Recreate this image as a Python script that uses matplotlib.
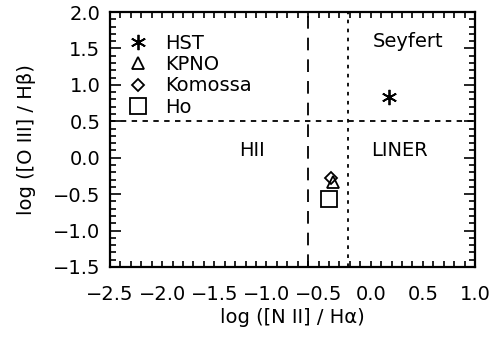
import matplotlib
matplotlib.use("Agg")
import matplotlib.pyplot as plt
from matplotlib.ticker import MultipleLocator

# Diagnostic-diagram measurements
sources = ["HST", "KPNO", "Komossa", "Ho"]
log_nii_ha = [0.18, -0.36, -0.38, -0.40]
log_oiii_hb = [0.83, -0.33, -0.28, -0.57]
markers = [(6, 2, 0), "^", "D", "s"]
marker_sizes = [11, 9, 6, 11]

# Classification boundaries
hii_boundary = -0.6
liner_boundary = -0.22
seyfert_boundary = 0.5

region_labels = ["Seyfert", "LINER", "HII"]
region_x = [0.36, 0.28, -1.14]
region_y = [1.59, 0.10, 0.10]

x_ticks = [-2.5, -2.0, -1.5, -1.0, -0.5, 0.0, 0.5, 1.0]
y_ticks = [-1.5, -1.0, -0.5, 0.0, 0.5, 1.0, 1.5, 2.0]

plt.rcParams["font.family"] = ["DejaVu Sans"]
fs = 14

fig = plt.figure(figsize=(4.93, 3.37), dpi=100)
ax = fig.add_axes([110 / 493, 1 - 267 / 337, 365 / 493, 255 / 337])

ax.set_xlim(-2.5, 1.0)
ax.set_ylim(-1.5, 2.0)

ax.axvline(hii_boundary, color="black", lw=1.3, ls=(0, (7, 5)))
ax.axvline(liner_boundary, color="black", lw=1.3, ls=(0, (2, 3)))
ax.axhline(seyfert_boundary, color="black", lw=1.3, ls=(0, (3, 3)))

for x, y, m, s, name in zip(log_nii_ha, log_oiii_hb, markers,
                            marker_sizes, sources):
    ax.plot([x], [y], ls="none", marker=m, ms=s, mfc="none", mec="black",
            mew=1.3, color="black", label=name)

for t, x, y in zip(region_labels, region_x, region_y):
    ax.text(x, y, t, fontsize=fs, ha="center", va="center")

leg = ax.legend(loc="upper left", bbox_to_anchor=(0.05, 0.915),
                frameon=False, fontsize=fs, handlelength=1.0,
                handletextpad=0.9, labelspacing=0.12, borderpad=0.0,
                borderaxespad=0.0)

ax.set_xticks(x_ticks)
ax.set_yticks(y_ticks)
ax.set_xticklabels([f"{v:.1f}".replace("-", "\u2212") for v in x_ticks], fontsize=fs)
ax.set_yticklabels([f"{v:.1f}".replace("-", "\u2212") for v in y_ticks], fontsize=fs)
ax.xaxis.set_minor_locator(MultipleLocator(0.1))
ax.yaxis.set_minor_locator(MultipleLocator(0.1))
ax.tick_params(which="both", direction="in", top=True, right=True, width=1.2)
ax.tick_params(axis="x", which="both", length=4, pad=13)
ax.tick_params(axis="y", which="major", length=8, pad=7)
ax.tick_params(axis="y", which="minor", length=4)
for sp in ax.spines.values():
    sp.set_linewidth(1.6)

ax.set_xlabel("log ([N II] / H\u03b1)", fontsize=fs, labelpad=3)
ax.set_ylabel("log ([O III] / H\u03b2)", fontsize=fs, labelpad=12)

fig.savefig("out.png", dpi=100)
